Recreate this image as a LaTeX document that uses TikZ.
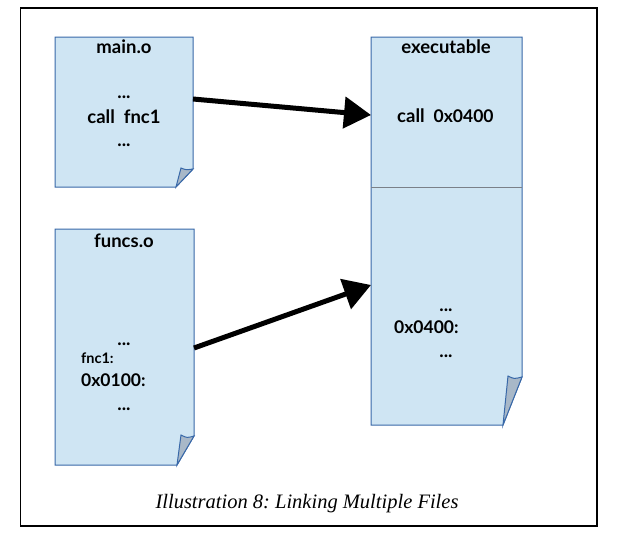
\documentclass[tikz,border=0pt]{standalone}
\usepackage{fontspec}
\setmainfont{Liberation Serif}
\newfontfamily\boxfont{Lato}
\usetikzlibrary{arrows.meta}
\definecolor{pagefill}{HTML}{CFE5F3}
\definecolor{pageline}{HTML}{3868A8}
\definecolor{foldfill}{HTML}{A8B8C8}
\definecolor{divline}{HTML}{7A8088}
\tikzset{
  page/.style={fill=pagefill, draw=pageline, line width=1pt, line join=miter},
  fold/.style={fill=foldfill, draw=pageline, line width=1pt},
  title/.style={font=\boxfont\bfseries\fontsize{18.5}{22}\selectfont, anchor=center, inner sep=0pt},
  big/.style={font=\boxfont\bfseries\fontsize{18.5}{22}\selectfont, inner sep=0pt},
  small/.style={font=\boxfont\bfseries\fontsize{14.5}{17}\selectfont, inner sep=0pt},
  hex/.style={font=\boxfont\bfseries\fontsize{17.5}{21}\selectfont, inner sep=0pt},
  arr/.style={line width=5pt, -{Triangle[length=27pt,width=31pt]}},
}
\begin{document}
\frenchspacing
\begin{tikzpicture}[x=1pt,y=-1pt]
\useasboundingbox (0,0) rectangle (619,536);
% outer frame
\draw[line width=1.2pt] (20.5,8) rectangle (597,526);

% main.o page
\draw[page] (55,37) -- (193,37) -- (193,169) -- (176,187) -- (55,187) -- cycle;
\draw[fold] (176,187) .. controls (178,178) .. (181,168) .. controls (186,170) .. (193,169) -- cycle;
% funcs.o page
\draw[page] (55,229) -- (194,229) -- (194,436) -- (177,465) -- (55,465) -- cycle;
\draw[fold] (177,465) .. controls (179,450) .. (181,435) .. controls (187,438) .. (194,436) -- cycle;
% executable page
\draw[page] (371,37) -- (522,37) -- (522,377) -- (503,425) -- (371,425) -- cycle;
\draw[fold] (503,425) .. controls (505,400) .. (508,376) .. controls (514,379) .. (522,377) -- cycle;
\draw[divline, line width=0.8pt] (371,187) coordinate (dl) -- (522,187) coordinate (dr);

% texts main.o
\node[title] (tmain) at (124,47) {main.o};
\node[big] (m1) at (124,97) {...};
\node[big] (m2) at (124,117) {call\ \ fnc1};
\node[big] (m3) at (124,145) {...};
% funcs.o
\node[title] (tfuncs) at (124,241) {funcs.o};
\node[big] (f1) at (124,344) {...};
\node[small, anchor=west] (f2) at (81,358) {fnc1:};
\node[hex, anchor=west] (f3) at (81,380) {0x0100:};
\node[big] (f4) at (124,409) {...};
% executable
\node[title] (texe) at (446,47) {executable};
\node[big, anchor=west] (e1) at (397,116) {call\ \ {\fontsize{17.5}{21}\selectfont 0x0400}};
\node[big] (e2) at (446,310) {...};
\node[hex, anchor=west] (e3) at (394,327) {0x0400:};
\node[big] (e4) at (446,356) {...};

% arrow anchors
\coordinate (a1s) at (193,99);
\coordinate (a1e) at (371,115);
\coordinate (a2s) at (194,348);
\coordinate (a2e) at (371,285);
\draw[arr] (a1s) -- (a1e);
\draw[arr] (a2s) -- (a2e);

% caption
\node[font=\itshape\fontsize{20.5}{24}\selectfont, inner sep=0pt] (cap) at (307,504) {Illustration 8: Linking Multiple Files};
\end{tikzpicture}
\end{document}
